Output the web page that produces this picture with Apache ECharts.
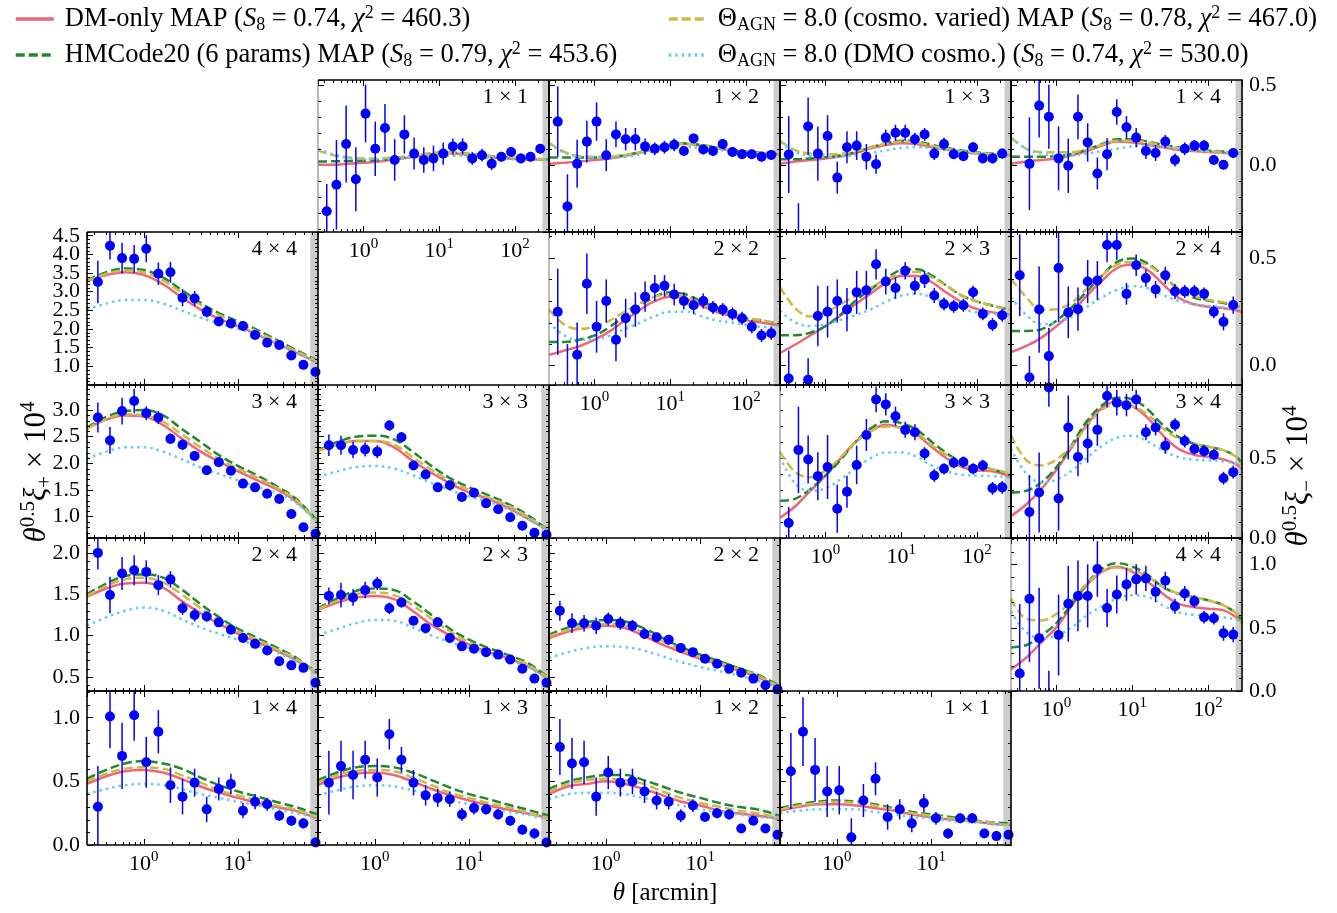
<!DOCTYPE html>
<html>
<head>
<meta charset="utf-8">
<script src="https://cdn.jsdelivr.net/npm/echarts@6.0.0/dist/echarts.min.js"></script>
<style>
  html, body { margin: 0; padding: 0; background: #fff; }
  #chart { width: 1337px; height: 913px; }
</style>
</head>
<body>
<div id="chart"></div>
<script>
// Angular bin centres in arcmin (xi+ uses the first 19, xi- all 23)
const thetaBins = [0.326, 0.438, 0.588, 0.790, 1.061, 1.425, 1.914, 2.570, 3.452, 4.636, 6.226, 8.362,
  11.23, 15.08, 20.26, 27.20, 36.54, 49.07, 65.90, 88.50, 118.9, 159.6, 214.4];
// Angles at which the model curves are tabulated
const thetaModelPlus = [0.25, 0.4, 0.63, 1, 1.6, 2.5, 4, 6.3, 10, 16, 25, 40, 63, 70];
const thetaModelMinus = [0.25, 0.4, 0.63, 1, 1.6, 2.5, 4, 6.3, 10, 16, 25, 40, 63, 100, 160, 250, 280];

// ---------------- xi+ (theta^0.5 xi+ x 1e4) ----------------
const P44_y = [3.26, 4.23, 3.90, 3.88, 4.15, 3.48, 3.52, 2.84, 2.82, 2.46, 2.20, 2.15, 2.08, 1.84, 1.63, 1.57, 1.29, 1.04, 0.85];
const P44_e = [0.57, 0.37, 0.41, 0.37, 0.36, 0.30, 0.28, 0.23, 0.20, 0.15, 0.12, 0.10, 0.10, 0.08, 0.07, 0.07, 0.06, 0.06, 0.05];
const P44_dm = [3.28, 3.45, 3.52, 3.45, 3.20, 2.85, 2.52, 2.27, 2.07, 1.85, 1.62, 1.38, 1.15, 1.10];
const P44_hm = [3.30, 3.52, 3.62, 3.58, 3.38, 3.05, 2.70, 2.42, 2.20, 1.97, 1.72, 1.45, 1.20, 1.12];
const P44_av = [3.28, 3.48, 3.57, 3.52, 3.30, 2.98, 2.65, 2.37, 2.15, 1.93, 1.68, 1.42, 1.18, 1.10];
const P44_ad = [2.53, 2.68, 2.78, 2.78, 2.68, 2.50, 2.30, 2.15, 2.00, 1.83, 1.62, 1.38, 1.15, 1.10];

const P34_y = [2.86, 2.43, 2.98, 3.17, 2.94, 2.86, 2.46, 2.35, 2.14, 1.87, 2.02, 1.86, 1.62, 1.55, 1.43, 1.33, 1.05, 0.80, 0.68];
const P34_e = [0.28, 0.25, 0.25, 0.23, 0.13, 0.12, 0.10, 0.10, 0.08, 0.06, 0.06, 0.05, 0.04, 0.04, 0.04, 0.04, 0.04, 0.04, 0.04];
const P34_dm = [2.65, 2.82, 2.90, 2.88, 2.72, 2.47, 2.22, 2.03, 1.85, 1.68, 1.52, 1.30, 0.98, 0.90];
const P34_hm = [2.67, 2.87, 2.98, 3.00, 2.90, 2.65, 2.40, 2.15, 1.95, 1.77, 1.58, 1.35, 1.00, 0.92];
const P34_av = [2.65, 2.83, 2.92, 2.90, 2.78, 2.55, 2.30, 2.08, 1.90, 1.73, 1.55, 1.33, 0.98, 0.90];
const P34_ad = [2.09, 2.22, 2.30, 2.30, 2.22, 2.08, 1.92, 1.80, 1.68, 1.56, 1.45, 1.27, 0.97, 0.90];

const P33_y = [2.34, 2.34, 2.25, 2.26, 2.22, 2.71, 2.49, 1.96, 1.79, 1.55, 1.59, 1.37, 1.45, 1.25, 1.14, 0.99, 0.83, 0.70, 0.66];
const P33_e = [0.20, 0.18, 0.15, 0.13, 0.12, 0.10, 0.10, 0.08, 0.07, 0.05, 0.05, 0.05, 0.05, 0.04, 0.04, 0.04, 0.04, 0.04, 0.04];
const P33_dm = [2.24, 2.35, 2.42, 2.42, 2.30, 2.05, 1.82, 1.62, 1.45, 1.33, 1.18, 0.98, 0.78, 0.74];
const P33_hm = [2.24, 2.40, 2.50, 2.52, 2.45, 2.22, 1.95, 1.72, 1.55, 1.40, 1.25, 1.05, 0.80, 0.76];
const P33_av = [2.24, 2.35, 2.42, 2.42, 2.35, 2.12, 1.88, 1.67, 1.50, 1.36, 1.22, 1.02, 0.79, 0.75];
const P33_ad = [1.75, 1.85, 1.93, 1.95, 1.90, 1.78, 1.63, 1.50, 1.38, 1.28, 1.15, 0.97, 0.78, 0.74];

const P24_y = [2.00, 1.49, 1.75, 1.79, 1.77, 1.61, 1.68, 1.33, 1.25, 1.23, 1.16, 1.07, 0.97, 0.90, 0.82, 0.69, 0.64, 0.61, 0.43];
const P24_e = [0.20, 0.22, 0.20, 0.18, 0.14, 0.12, 0.10, 0.08, 0.08, 0.06, 0.05, 0.05, 0.04, 0.04, 0.04, 0.04, 0.04, 0.04, 0.04];
const P24_dm = [1.47, 1.57, 1.63, 1.64, 1.58, 1.42, 1.27, 1.14, 1.02, 0.92, 0.82, 0.71, 0.57, 0.54];
const P24_hm = [1.50, 1.63, 1.72, 1.74, 1.70, 1.56, 1.38, 1.22, 1.08, 0.97, 0.86, 0.74, 0.58, 0.55];
const P24_av = [1.48, 1.60, 1.68, 1.70, 1.64, 1.50, 1.33, 1.18, 1.05, 0.95, 0.84, 0.73, 0.57, 0.54];
const P24_ad = [1.12, 1.22, 1.30, 1.34, 1.30, 1.20, 1.10, 1.02, 0.95, 0.88, 0.80, 0.70, 0.56, 0.53];

const P23_y = [1.48, 1.49, 1.46, 1.55, 1.63, 1.33, 1.40, 1.18, 1.09, 1.16, 0.97, 0.87, 0.84, 0.80, 0.77, 0.71, 0.60, 0.48, 0.43];
const P23_e = [0.10, 0.15, 0.10, 0.10, 0.08, 0.07, 0.06, 0.05, 0.05, 0.05, 0.04, 0.04, 0.04, 0.03, 0.03, 0.03, 0.03, 0.03, 0.03];
const P23_dm = [1.31, 1.40, 1.46, 1.48, 1.44, 1.30, 1.13, 1.00, 0.89, 0.80, 0.73, 0.64, 0.51, 0.48];
const P23_hm = [1.33, 1.45, 1.54, 1.57, 1.55, 1.42, 1.25, 1.08, 0.95, 0.85, 0.77, 0.68, 0.53, 0.50];
const P23_av = [1.32, 1.42, 1.50, 1.52, 1.49, 1.37, 1.20, 1.05, 0.92, 0.83, 0.75, 0.66, 0.52, 0.49];
const P23_ad = [1.01, 1.08, 1.15, 1.19, 1.18, 1.10, 1.00, 0.92, 0.85, 0.78, 0.71, 0.63, 0.50, 0.47];

const P22_y = [1.30, 1.15, 1.15, 1.12, 1.20, 1.15, 1.12, 1.02, 0.98, 0.95, 0.85, 0.80, 0.72, 0.66, 0.60, 0.55, 0.48, 0.40, 0.35];
const P22_e = [0.12, 0.12, 0.10, 0.10, 0.08, 0.08, 0.07, 0.06, 0.05, 0.05, 0.04, 0.04, 0.04, 0.03, 0.03, 0.03, 0.03, 0.03, 0.03];
const P22_dm = [0.97, 1.05, 1.10, 1.12, 1.09, 1.00, 0.89, 0.80, 0.72, 0.65, 0.58, 0.50, 0.40, 0.38];
const P22_hm = [1.01, 1.10, 1.16, 1.19, 1.17, 1.09, 0.97, 0.86, 0.77, 0.69, 0.61, 0.53, 0.42, 0.40];
const P22_av = [0.99, 1.07, 1.12, 1.14, 1.12, 1.04, 0.93, 0.83, 0.74, 0.67, 0.60, 0.52, 0.41, 0.39];
const P22_ad = [0.73, 0.80, 0.85, 0.87, 0.86, 0.82, 0.75, 0.68, 0.62, 0.57, 0.52, 0.46, 0.39, 0.37];

const P14_y = [0.30, 1.01, 0.70, 1.02, 0.65, 0.89, 0.47, 0.38, 0.49, 0.28, 0.44, 0.48, 0.27, 0.34, 0.32, 0.23, 0.19, 0.17, 0.02];
const P14_e = [0.32, 0.25, 0.26, 0.20, 0.20, 0.17, 0.14, 0.14, 0.11, 0.10, 0.09, 0.08, 0.06, 0.06, 0.05, 0.04, 0.04, 0.04, 0.04];
const P14_dm = [0.48, 0.54, 0.58, 0.59, 0.57, 0.52, 0.46, 0.41, 0.37, 0.33, 0.30, 0.27, 0.22, 0.21];
const P14_hm = [0.52, 0.59, 0.64, 0.66, 0.64, 0.60, 0.53, 0.47, 0.42, 0.38, 0.34, 0.30, 0.25, 0.24];
const P14_av = [0.50, 0.56, 0.60, 0.61, 0.60, 0.55, 0.49, 0.43, 0.39, 0.35, 0.31, 0.28, 0.23, 0.22];
const P14_ad = [0.40, 0.44, 0.47, 0.48, 0.47, 0.44, 0.40, 0.37, 0.34, 0.31, 0.28, 0.25, 0.22, 0.21];

const P13_y = [0.49, 0.62, 0.55, 0.67, 0.53, 0.87, 0.67, 0.49, 0.39, 0.37, 0.36, 0.24, 0.29, 0.28, 0.24, 0.19, 0.12, 0.09, 0.02];
const P13_e = [0.25, 0.20, 0.19, 0.15, 0.15, 0.12, 0.10, 0.10, 0.08, 0.07, 0.06, 0.05, 0.05, 0.04, 0.04, 0.04, 0.04, 0.04, 0.03];
const P13_dm = [0.47, 0.53, 0.56, 0.57, 0.55, 0.50, 0.44, 0.39, 0.35, 0.31, 0.28, 0.25, 0.22, 0.21];
const P13_hm = [0.51, 0.57, 0.61, 0.62, 0.61, 0.57, 0.51, 0.45, 0.40, 0.36, 0.32, 0.28, 0.24, 0.23];
const P13_av = [0.49, 0.55, 0.58, 0.59, 0.58, 0.53, 0.47, 0.41, 0.37, 0.33, 0.30, 0.26, 0.22, 0.22];
const P13_ad = [0.39, 0.43, 0.46, 0.47, 0.46, 0.43, 0.39, 0.35, 0.32, 0.29, 0.26, 0.24, 0.21, 0.21];

const P12_y = [0.77, 0.64, 0.65, 0.38, 0.57, 0.49, 0.50, 0.42, 0.35, 0.34, 0.23, 0.31, 0.22, 0.25, 0.24, 0.13, 0.19, 0.13, 0.08];
const P12_e = [0.22, 0.20, 0.17, 0.15, 0.13, 0.11, 0.10, 0.09, 0.07, 0.06, 0.05, 0.05, 0.04, 0.04, 0.04, 0.03, 0.03, 0.03, 0.03];
const P12_dm = [0.40, 0.46, 0.48, 0.50, 0.48, 0.44, 0.39, 0.34, 0.31, 0.27, 0.25, 0.23, 0.21, 0.20];
const P12_hm = [0.44, 0.50, 0.53, 0.55, 0.55, 0.51, 0.46, 0.41, 0.37, 0.33, 0.30, 0.28, 0.24, 0.22];
const P12_av = [0.42, 0.48, 0.51, 0.52, 0.51, 0.48, 0.42, 0.37, 0.33, 0.30, 0.27, 0.25, 0.22, 0.21];
const P12_ad = [0.36, 0.40, 0.41, 0.41, 0.40, 0.37, 0.34, 0.31, 0.28, 0.26, 0.24, 0.22, 0.21, 0.20];

const P11_y = [0.58, 0.89, 0.59, 0.42, 0.43, 0.06, 0.35, 0.52, 0.22, 0.28, 0.17, 0.33, 0.21, 0.09, 0.21, 0.21, 0.09, 0.07, 0.08];
const P11_e = [0.30, 0.27, 0.25, 0.20, 0.19, 0.15, 0.13, 0.13, 0.10, 0.08, 0.07, 0.07, 0.05, 0.04, 0.04, 0.04, 0.03, 0.03, 0.03];
const P11_dm = [0.27, 0.30, 0.32, 0.32, 0.31, 0.29, 0.27, 0.24, 0.22, 0.20, 0.19, 0.17, 0.16, 0.16];
const P11_hm = [0.29, 0.32, 0.34, 0.35, 0.34, 0.32, 0.29, 0.26, 0.24, 0.22, 0.20, 0.18, 0.17, 0.16];
const P11_av = [0.28, 0.31, 0.33, 0.34, 0.33, 0.31, 0.28, 0.25, 0.23, 0.21, 0.19, 0.18, 0.16, 0.16];
const P11_ad = [0.25, 0.27, 0.28, 0.28, 0.28, 0.26, 0.24, 0.22, 0.21, 0.19, 0.18, 0.17, 0.16, 0.16];

// ---------------- xi- (theta^0.5 xi- x 1e4) ----------------
const M11_y = [-0.29, -0.125, 0.13, -0.09, 0.32, 0.10, 0.23, 0.03, 0.19, 0.07, 0.03, 0.04, 0.07, 0.115, 0.115, 0.04, 0.06, 0.007, 0.05, 0.08, 0.04, 0.05, 0.10];
const M11_e = [0.17, 0.28, 0.24, 0.20, 0.18, 0.17, 0.15, 0.13, 0.12, 0.10, 0.08, 0.08, 0.07, 0.05, 0.05, 0.04, 0.04, 0.04, 0.03, 0.03, 0.03, 0.03, 0.03];
const M11_dm = [0.0, 0.0, 0.007, 0.013, 0.02, 0.033, 0.046, 0.06, 0.07, 0.07, 0.06, 0.05, 0.042, 0.036, 0.033, 0.033, 0.033];
const M11_hm = [0.02, 0.022, 0.024, 0.026, 0.03, 0.04, 0.052, 0.066, 0.075, 0.075, 0.068, 0.058, 0.05, 0.043, 0.038, 0.035, 0.035];
const M11_av = [0.09, 0.06, 0.045, 0.04, 0.04, 0.045, 0.055, 0.066, 0.073, 0.073, 0.066, 0.056, 0.048, 0.042, 0.037, 0.034, 0.034];
const M11_ad = [0.10, 0.065, 0.045, 0.035, 0.035, 0.038, 0.045, 0.05, 0.055, 0.056, 0.052, 0.045, 0.04, 0.035, 0.032, 0.03, 0.03];

const M12_y = [0.27, -0.26, 0.007, 0.145, 0.27, 0.06, 0.19, 0.16, 0.16, 0.115, 0.10, 0.11, 0.125, 0.086, 0.165, 0.096, 0.086, 0.13, 0.08, 0.066, 0.066, 0.05, 0.062];
const M12_e = [0.22, 0.20, 0.15, 0.13, 0.12, 0.10, 0.08, 0.07, 0.07, 0.05, 0.04, 0.04, 0.04, 0.03, 0.03, 0.03, 0.03, 0.03, 0.03, 0.03, 0.03, 0.03, 0.03];
const M12_dm = [0.007, 0.013, 0.02, 0.03, 0.04, 0.056, 0.076, 0.10, 0.12, 0.13, 0.12, 0.105, 0.09, 0.08, 0.07, 0.065, 0.063];
const M12_hm = [0.046, 0.046, 0.046, 0.046, 0.05, 0.06, 0.08, 0.105, 0.125, 0.135, 0.125, 0.11, 0.095, 0.083, 0.075, 0.068, 0.066];
const M12_av = [0.14, 0.08, 0.055, 0.05, 0.052, 0.062, 0.08, 0.103, 0.122, 0.132, 0.122, 0.108, 0.093, 0.082, 0.073, 0.067, 0.065];
const M12_ad = [0.13, 0.075, 0.05, 0.045, 0.045, 0.05, 0.065, 0.085, 0.10, 0.11, 0.105, 0.095, 0.085, 0.075, 0.068, 0.062, 0.06];

const M13_y = [0.064, -0.50, 0.24, 0.07, 0.18, -0.08, 0.11, 0.12, 0.05, 0.004, 0.17, 0.20, 0.20, 0.16, 0.19, 0.07, 0.13, 0.066, 0.054, 0.11, 0.04, 0.04, 0.07];
const M13_e = [0.24, 0.26, 0.18, 0.17, 0.13, 0.10, 0.10, 0.09, 0.08, 0.06, 0.05, 0.05, 0.05, 0.04, 0.04, 0.04, 0.04, 0.03, 0.03, 0.03, 0.03, 0.03, 0.03];
const M13_dm = [0.006, 0.02, 0.03, 0.04, 0.054, 0.074, 0.104, 0.124, 0.135, 0.13, 0.11, 0.094, 0.08, 0.07, 0.064, 0.06, 0.058];
const M13_hm = [0.035, 0.035, 0.04, 0.048, 0.06, 0.08, 0.11, 0.135, 0.15, 0.145, 0.125, 0.105, 0.09, 0.078, 0.07, 0.065, 0.063];
const M13_av = [0.15, 0.09, 0.07, 0.065, 0.07, 0.085, 0.11, 0.132, 0.145, 0.14, 0.12, 0.10, 0.085, 0.075, 0.068, 0.063, 0.062];
const M13_ad = [0.14, 0.08, 0.055, 0.05, 0.052, 0.06, 0.075, 0.09, 0.105, 0.11, 0.105, 0.095, 0.085, 0.075, 0.067, 0.062, 0.06];

const M14_y = [-0.60, 0.006, 0.37, 0.30, 0.04, -0.006, 0.30, 0.14, -0.054, 0.066, 0.33, 0.235, 0.17, 0.086, 0.074, 0.146, 0.03, 0.10, 0.12, 0.12, 0.03, 0.0, 0.074];
const M14_e = [0.15, 0.29, 0.20, 0.20, 0.20, 0.17, 0.14, 0.12, 0.10, 0.10, 0.08, 0.07, 0.06, 0.05, 0.05, 0.04, 0.04, 0.04, 0.035, 0.035, 0.03, 0.03, 0.03];
const M14_dm = [0.006, 0.02, 0.03, 0.04, 0.06, 0.086, 0.12, 0.145, 0.14, 0.125, 0.11, 0.094, 0.086, 0.08, 0.074, 0.07, 0.07];
const M14_hm = [0.05, 0.05, 0.05, 0.055, 0.068, 0.095, 0.13, 0.16, 0.16, 0.145, 0.125, 0.11, 0.10, 0.09, 0.083, 0.078, 0.077];
const M14_av = [0.17, 0.10, 0.08, 0.078, 0.08, 0.095, 0.125, 0.15, 0.15, 0.14, 0.12, 0.105, 0.095, 0.087, 0.08, 0.076, 0.075];
const M14_ad = [0.17, 0.10, 0.07, 0.06, 0.06, 0.07, 0.085, 0.10, 0.115, 0.12, 0.115, 0.10, 0.09, 0.082, 0.075, 0.07, 0.07];

const M22_y = [0.25, -0.10, 0.05, 0.38, 0.18, 0.30, 0.12, 0.22, 0.26, 0.32, 0.36, 0.37, 0.33, 0.30, 0.28, 0.30, 0.27, 0.26, 0.24, 0.22, 0.18, 0.14, 0.15];
const M22_e = [0.20, 0.20, 0.15, 0.14, 0.12, 0.10, 0.10, 0.09, 0.08, 0.07, 0.06, 0.05, 0.05, 0.04, 0.04, 0.035, 0.03, 0.03, 0.03, 0.03, 0.03, 0.03, 0.03];
const M22_dm = [0.05, 0.07, 0.09, 0.12, 0.16, 0.21, 0.26, 0.30, 0.32, 0.31, 0.28, 0.25, 0.23, 0.21, 0.20, 0.19, 0.19];
const M22_hm = [0.11, 0.11, 0.12, 0.14, 0.18, 0.23, 0.28, 0.32, 0.34, 0.33, 0.30, 0.27, 0.24, 0.22, 0.21, 0.20, 0.20];
const M22_av = [0.26, 0.19, 0.17, 0.18, 0.21, 0.25, 0.29, 0.32, 0.33, 0.32, 0.29, 0.26, 0.24, 0.22, 0.21, 0.20, 0.20];
const M22_ad = [0.20, 0.14, 0.12, 0.12, 0.14, 0.17, 0.20, 0.23, 0.25, 0.25, 0.23, 0.21, 0.20, 0.19, 0.18, 0.18, 0.18];

const M23_y = [-0.06, -0.25, -0.066, 0.23, 0.25, 0.30, 0.26, 0.34, 0.35, 0.47, 0.39, 0.36, 0.44, 0.37, 0.40, 0.325, 0.286, 0.275, 0.28, 0.34, 0.24, 0.19, 0.234];
const M23_e = [0.13, 0.12, 0.10, 0.14, 0.12, 0.10, 0.10, 0.10, 0.09, 0.07, 0.06, 0.05, 0.04, 0.04, 0.04, 0.035, 0.03, 0.03, 0.03, 0.03, 0.03, 0.03, 0.03];
const M23_dm = [0.059, 0.098, 0.141, 0.184, 0.234, 0.286, 0.336, 0.385, 0.416, 0.416, 0.388, 0.337, 0.294, 0.262, 0.247, 0.239, 0.234];
const M23_hm = [0.141, 0.141, 0.153, 0.184, 0.239, 0.302, 0.356, 0.403, 0.443, 0.447, 0.419, 0.369, 0.325, 0.297, 0.278, 0.262, 0.258];
const M23_av = [0.364, 0.266, 0.228, 0.247, 0.286, 0.325, 0.364, 0.40, 0.427, 0.435, 0.411, 0.369, 0.325, 0.297, 0.278, 0.262, 0.258];
const M23_ad = [0.255, 0.20, 0.184, 0.192, 0.213, 0.234, 0.262, 0.297, 0.325, 0.333, 0.317, 0.286, 0.262, 0.247, 0.239, 0.234, 0.231];

const M24_y = [0.419, -0.055, 0.26, 0.044, 0.453, 0.247, 0.262, 0.39, 0.395, 0.56, 0.56, 0.333, 0.466, 0.406, 0.353, 0.419, 0.344, 0.344, 0.344, 0.333, 0.25, 0.203, 0.281];
const M24_e = [0.19, 0.10, 0.20, 0.13, 0.25, 0.12, 0.10, 0.10, 0.09, 0.08, 0.07, 0.05, 0.05, 0.04, 0.04, 0.04, 0.035, 0.03, 0.03, 0.03, 0.03, 0.04, 0.04];
const M24_dm = [0.0625, 0.091, 0.13, 0.184, 0.247, 0.325, 0.395, 0.453, 0.469, 0.443, 0.38, 0.317, 0.286, 0.273, 0.266, 0.255, 0.247];
const M24_hm = [0.161, 0.161, 0.169, 0.209, 0.272, 0.344, 0.419, 0.481, 0.497, 0.473, 0.419, 0.356, 0.317, 0.302, 0.29, 0.275, 0.266];
const M24_av = [0.403, 0.317, 0.259, 0.262, 0.294, 0.356, 0.419, 0.469, 0.481, 0.466, 0.419, 0.359, 0.325, 0.306, 0.294, 0.275, 0.266];
const M24_ad = [0.317, 0.234, 0.192, 0.20, 0.228, 0.272, 0.317, 0.352, 0.369, 0.359, 0.328, 0.302, 0.286, 0.278, 0.27, 0.262, 0.258];

const M33_y = [0.094, 0.55, 0.49, 0.386, 0.443, 0.183, 0.289, 0.456, 0.643, 0.865, 0.834, 0.76, 0.675, 0.66, 0.527, 0.39, 0.432, 0.47, 0.474, 0.432, 0.453, 0.31, 0.316];
const M33_e = [0.10, 0.27, 0.15, 0.15, 0.20, 0.15, 0.10, 0.12, 0.10, 0.08, 0.07, 0.06, 0.05, 0.05, 0.04, 0.04, 0.035, 0.035, 0.035, 0.035, 0.035, 0.04, 0.04];
const M33_dm = [0.126, 0.20, 0.295, 0.39, 0.50, 0.601, 0.669, 0.707, 0.686, 0.643, 0.57, 0.496, 0.443, 0.422, 0.416, 0.39, 0.373];
const M33_hm = [0.232, 0.246, 0.306, 0.39, 0.491, 0.601, 0.686, 0.728, 0.717, 0.675, 0.601, 0.527, 0.474, 0.443, 0.428, 0.40, 0.384];
const M33_av = [0.538, 0.411, 0.379, 0.422, 0.506, 0.601, 0.669, 0.696, 0.686, 0.654, 0.58, 0.517, 0.464, 0.436, 0.428, 0.407, 0.39];
const M33_ad = [0.506, 0.338, 0.295, 0.31, 0.369, 0.436, 0.50, 0.534, 0.534, 0.506, 0.453, 0.416, 0.394, 0.39, 0.386, 0.379, 0.373];

const M34_y = [-0.20, 0.162, 0.284, 0.94, 0.246, 0.69, 0.506, 0.59, 0.675, 0.886, 0.844, 0.829, 0.865, 0.66, 0.69, 0.576, 0.707, 0.605, 0.555, 0.542, 0.52, 0.373, 0.411];
const M34_e = [0.15, 0.23, 0.25, 0.12, 0.20, 0.20, 0.12, 0.12, 0.10, 0.07, 0.08, 0.07, 0.06, 0.05, 0.05, 0.05, 0.04, 0.04, 0.035, 0.035, 0.035, 0.04, 0.04];
const M34_dm = [0.137, 0.211, 0.306, 0.428, 0.569, 0.707, 0.813, 0.854, 0.823, 0.749, 0.643, 0.559, 0.521, 0.506, 0.491, 0.453, 0.428];
const M34_hm = [0.284, 0.295, 0.348, 0.443, 0.584, 0.728, 0.829, 0.876, 0.865, 0.802, 0.707, 0.633, 0.591, 0.569, 0.548, 0.496, 0.453];
const M34_av = [0.643, 0.485, 0.453, 0.491, 0.58, 0.696, 0.802, 0.834, 0.823, 0.77, 0.686, 0.622, 0.591, 0.569, 0.548, 0.496, 0.453];
const M34_ad = [0.559, 0.401, 0.348, 0.365, 0.422, 0.50, 0.576, 0.626, 0.639, 0.601, 0.548, 0.506, 0.491, 0.485, 0.479, 0.458, 0.436];

const M44_y = [0.138, 0.73, 0.417, -0.30, 0.443, 0.69, 0.752, 0.752, 0.965, 0.657, 0.763, 0.843, 0.883, 0.89, 0.784, 0.872, 0.67, 0.771, 0.709, 0.584, 0.576, 0.457, 0.446];
const M44_e = [0.55, 0.50, 0.40, 0.46, 0.32, 0.30, 0.28, 0.25, 0.22, 0.15, 0.15, 0.13, 0.12, 0.10, 0.08, 0.07, 0.06, 0.06, 0.05, 0.05, 0.05, 0.06, 0.06];
const M44_dm = [0.172, 0.265, 0.385, 0.505, 0.678, 0.837, 0.943, 0.983, 0.943, 0.864, 0.771, 0.691, 0.665, 0.651, 0.638, 0.571, 0.539];
const M44_hm = [0.345, 0.364, 0.438, 0.539, 0.691, 0.85, 0.97, 1.01, 0.983, 0.917, 0.824, 0.771, 0.744, 0.717, 0.678, 0.598, 0.539];
const M44_av = [0.731, 0.571, 0.558, 0.611, 0.717, 0.85, 0.949, 0.976, 0.957, 0.904, 0.824, 0.771, 0.744, 0.717, 0.678, 0.598, 0.539];
const M44_ad = [0.63, 0.465, 0.417, 0.438, 0.505, 0.598, 0.672, 0.731, 0.757, 0.744, 0.678, 0.624, 0.603, 0.598, 0.584, 0.558, 0.539];

// y-axis ranges of each panel row
const yRangePlus = { 1: [0.5, 4.6], 2: [0.6, 3.47], 3: [0.33, 2.18], 4: [0.0, 1.21] };
const yRangeMinus = { 0: [-0.42, 0.53], 1: [-0.09, 0.62], 2: [0.0, 0.955], 3: [0.0, 1.21] };
const xRangePlus = [0.25, 70], xRangeMinus = [0.25, 280];
const bandPlus = 58, bandMinus = 230;   // start of the shaded scale cut

const SERIES_NAMES = ['DM-only MAP', 'HMCode20 (6 params) MAP', 'ΘAGN = 8.0 (cosmo. varied) MAP', 'ΘAGN = 8.0 (DMO cosmo.)'];
const LEGEND_TEXT = {
  'DM-only MAP': 'DM-only MAP ({i|S}{sub|8} = 0.74, {i|χ}{sup|2} = 460.3)',
  'HMCode20 (6 params) MAP': 'HMCode20 (6 params) MAP ({i|S}{sub|8} = 0.79, {i|χ}{sup|2} = 453.6)',
  'ΘAGN = 8.0 (cosmo. varied) MAP': 'Θ{sub|AGN} = 8.0 (cosmo. varied) MAP ({i|S}{sub|8} = 0.78, {i|χ}{sup|2} = 467.0)',
  'ΘAGN = 8.0 (DMO cosmo.)': 'Θ{sub|AGN} = 8.0 (DMO cosmo.) ({i|S}{sub|8} = 0.74, {i|χ}{sup|2} = 530.0)'
};
const LINE_STYLES = [
  { color: '#EE6677', type: 'solid' },
  { color: '#228833', type: [9, 4] },
  { color: '#CCBB44', type: [9, 4] },
  { color: '#66CCEE', type: [2.5, 4] }
];

// panel id, grid row, grid column
const layout = [
  ['M11', 0, 1], ['M12', 0, 2], ['M13', 0, 3], ['M14', 0, 4],
  ['M22', 1, 2], ['M23', 1, 3], ['M24', 1, 4],
  ['M33', 2, 3], ['M34', 2, 4], ['M44', 3, 4],
  ['P44', 1, 0], ['P34', 2, 0], ['P33', 2, 1],
  ['P24', 3, 0], ['P23', 3, 1], ['P22', 3, 2],
  ['P14', 4, 0], ['P13', 4, 1], ['P12', 4, 2], ['P11', 4, 3]
];
const panelData = {
  P44: [P44_y, P44_e, P44_dm, P44_hm, P44_av, P44_ad], P34: [P34_y, P34_e, P34_dm, P34_hm, P34_av, P34_ad],
  P33: [P33_y, P33_e, P33_dm, P33_hm, P33_av, P33_ad], P24: [P24_y, P24_e, P24_dm, P24_hm, P24_av, P24_ad],
  P23: [P23_y, P23_e, P23_dm, P23_hm, P23_av, P23_ad], P22: [P22_y, P22_e, P22_dm, P22_hm, P22_av, P22_ad],
  P14: [P14_y, P14_e, P14_dm, P14_hm, P14_av, P14_ad], P13: [P13_y, P13_e, P13_dm, P13_hm, P13_av, P13_ad],
  P12: [P12_y, P12_e, P12_dm, P12_hm, P12_av, P12_ad], P11: [P11_y, P11_e, P11_dm, P11_hm, P11_av, P11_ad],
  M11: [M11_y, M11_e, M11_dm, M11_hm, M11_av, M11_ad], M12: [M12_y, M12_e, M12_dm, M12_hm, M12_av, M12_ad],
  M13: [M13_y, M13_e, M13_dm, M13_hm, M13_av, M13_ad], M14: [M14_y, M14_e, M14_dm, M14_hm, M14_av, M14_ad],
  M22: [M22_y, M22_e, M22_dm, M22_hm, M22_av, M22_ad], M23: [M23_y, M23_e, M23_dm, M23_hm, M23_av, M23_ad],
  M24: [M24_y, M24_e, M24_dm, M24_hm, M24_av, M24_ad], M33: [M33_y, M33_e, M33_dm, M33_hm, M33_av, M33_ad],
  M34: [M34_y, M34_e, M34_dm, M34_hm, M34_av, M34_ad], M44: [M44_y, M44_e, M44_dm, M44_hm, M44_av, M44_ad]
};

// ---------------- layout and drawing ----------------
const COL_X = [87, 318, 549, 780, 1011];
const ROW_Y = [80, 232, 385, 538, 691, 845];
const PANEL_W = 231;
const SERIF = '"Liberation Serif", "DejaVu Serif", serif';
const FS = 22;

const RICH = {
  a: { fontFamily: SERIF, fontSize: FS, lineHeight: 28, color: '#000' },
  s: { fontFamily: SERIF, fontSize: 15, lineHeight: 15, verticalAlign: 'top', color: '#000' }
};

function isMultiple(v, step) { return Math.abs(v / step - Math.round(v / step)) < 1e-6; }

function logLabel(v) {
  const p = Math.log10(v), r = Math.round(p);
  if (Math.abs(p - r) > 1e-6) return '';
  return '{a|10}{s|' + r + '}';
}

// minor ticks (log decades on x, 0.1 steps on y), drawn inside the frame on all four sides
function minorTickRenderer(xr, yr) {
  return function (params, api) {
    const cs = params.coordSys;
    const kids = [];
    const st = { stroke: '#000', lineWidth: 1 };
    const L = 3;
    for (let n = -1; n <= 3; n++) {
      for (let k = 2; k <= 9; k++) {
        const v = k * Math.pow(10, n);
        if (v <= xr[0] || v >= xr[1]) continue;
        const px = Math.round(api.coord([v, yr[0]])[0]) + 0.5;
        kids.push({ type: 'line', shape: { x1: px, y1: cs.y + cs.height, x2: px, y2: cs.y + cs.height - L }, style: st });
        kids.push({ type: 'line', shape: { x1: px, y1: cs.y, x2: px, y2: cs.y + L }, style: st });
      }
    }
    const i0 = Math.ceil(yr[0] * 10 - 1e-6), i1 = Math.floor(yr[1] * 10 + 1e-6);
    for (let i = i0; i <= i1; i++) {
      if (i % 5 === 0) continue;
      const py = Math.round(api.coord([xr[0] * 1.0001, i / 10])[1]) + 0.5;
      kids.push({ type: 'line', shape: { x1: cs.x, y1: py, x2: cs.x + L, y2: py }, style: st });
      kids.push({ type: 'line', shape: { x1: cs.x + cs.width, y1: py, x2: cs.x + cs.width - L, y2: py }, style: st });
    }
    return { type: 'group', children: kids };
  };
}

function bandRenderer(x0) {
  return function (params, api) {
    const cs = params.coordSys;
    const px = api.coord([x0, 0])[0];
    return { type: 'rect', shape: { x: px, y: cs.y, width: cs.x + cs.width - px, height: cs.height }, style: { fill: '#cccccc' } };
  };
}

function errRenderer(params, api) {
  const cs = params.coordSys;
  const x = api.value(0);
  const lo = api.coord([x, api.value(1)]);
  const hi = api.coord([x, api.value(2)]);
  const y1 = Math.min(lo[1], cs.y + cs.height);
  const y2 = Math.max(hi[1], cs.y);
  if (y1 <= y2) return null;
  return { type: 'line', shape: { x1: lo[0], y1: y1, x2: lo[0], y2: y2 }, style: { stroke: '#0000ff', lineWidth: 1.5 } };
}

const grids = [], xAxes = [], yAxes = [], series = [], graphics = [];

layout.forEach(function (entry, gi) {
  const id = entry[0], row = entry[1], col = entry[2];
  const plus = id[0] === 'P';
  const d = panelData[id];
  const xr = plus ? xRangePlus : xRangeMinus;
  const yr = plus ? yRangePlus[row] : yRangeMinus[row];
  const top = ROW_Y[row], h = ROW_Y[row + 1] - ROW_Y[row];
  const left = COL_X[col];
  const thModel = plus ? thetaModelPlus : thetaModelMinus;
  const diagonal = !plus && col === row + 1;

  const showLeft = plus && col === 0;
  const showRight = !plus && col === 4;
  const showBottom = plus ? row === 4 : diagonal;

  grids.push({ left: left, top: top, width: PANEL_W, height: h, show: false });

  const xBase = {
    type: 'log', logBase: 10, gridIndex: gi, min: xr[0], max: xr[1],
    axisLine: { show: false, onZero: false }, splitLine: { show: false },
    axisTick: { inside: true, length: 6, lineStyle: { color: '#000', width: 1 } }
  };
  xAxes.push(Object.assign({}, xBase, {
    position: 'bottom',
    axisLabel: { show: showBottom, margin: 5, formatter: logLabel, rich: RICH, showMinLabel: false, showMaxLabel: false, hideOverlap: false }
  }));
  xAxes.push(Object.assign({}, xBase, { position: 'top', axisLabel: { show: false } }));

  const yBase = {
    type: 'value', gridIndex: gi, min: yr[0], max: yr[1], minInterval: 0.5, maxInterval: 0.5, splitNumber: 3,
    axisLine: { show: false, onZero: false }, splitLine: { show: false },
    axisTick: { inside: true, length: 6, lineStyle: { color: '#000', width: 1 } }
  };
  // end labels: hidden when the range end is not a tick; otherwise left to the overlap rule
  const yLabel = {
    margin: 7, fontFamily: SERIF, fontSize: FS, color: '#000', hideOverlap: false,
    formatter: function (v) { return v.toFixed(1); },
    showMinLabel: isMultiple(yr[0], 0.5) ? null : false,
    showMaxLabel: isMultiple(yr[1], 0.5) ? null : false
  };
  yAxes.push(Object.assign({}, yBase, { position: 'left', axisLabel: Object.assign({ show: showLeft }, yLabel) }));
  yAxes.push(Object.assign({}, yBase, { position: 'right', axisLabel: Object.assign({ show: showRight }, yLabel) }));

  const xi = 2 * gi, yi = 2 * gi;

  series.push({
    type: 'custom', xAxisIndex: xi, yAxisIndex: yi, z: 1, silent: true,
    renderItem: bandRenderer(plus ? bandPlus : bandMinus), data: [[xr[0], yr[0]]]
  });

  for (let m = 0; m < 4; m++) {
    series.push({
      type: 'line', name: SERIES_NAMES[m], xAxisIndex: xi, yAxisIndex: yi, z: 2 + m * 0.1,
      showSymbol: false, symbol: 'none', smooth: 0.4, silent: true, clip: true,
      lineStyle: { color: LINE_STYLES[m].color, width: 2.5, type: LINE_STYLES[m].type, cap: 'butt' },
      itemStyle: { color: LINE_STYLES[m].color },
      data: thModel.map(function (t, i) { return [t, d[2 + m][i]]; })
    });
  }

  series.push({
    type: 'custom', xAxisIndex: xi, yAxisIndex: yi, z: 3, silent: true,
    renderItem: errRenderer,
    encode: { x: 0, y: [1, 2] },
    data: d[0].map(function (v, i) { return [thetaBins[i], v - d[1][i], v + d[1][i]]; })
  });
  series.push({
    type: 'scatter', xAxisIndex: xi, yAxisIndex: yi, z: 4, silent: true, clip: true,
    symbol: 'circle', symbolSize: 10, itemStyle: { color: '#0000ff', opacity: 1 },
    data: d[0].map(function (v, i) { return [thetaBins[i], v]; })
  });
  series.push({
    type: 'custom', xAxisIndex: xi, yAxisIndex: yi, z: 6, silent: true,
    renderItem: minorTickRenderer(xr, yr), data: [[xr[0], yr[0]]]
  });

  // frame: black on three sides; the left spine of a diagonal xi- panel (facing an empty cell) is grey
  graphics.push({
    type: 'polyline', z: 100, silent: true,
    shape: { points: [[left, top], [left + PANEL_W, top], [left + PANEL_W, top + h], [left, top + h]] },
    style: { fill: 'none', stroke: '#000', lineWidth: 1.6 }
  });
  graphics.push({
    type: 'line', z: diagonal ? 99 : 100, silent: true,
    shape: { x1: left, y1: top, x2: left, y2: top + h },
    style: { stroke: diagonal ? '#777' : '#000', lineWidth: diagonal ? 1 : 1.6 }
  });
  // bin-pair label
  graphics.push({
    type: 'text', z: 101, silent: true, x: left + PANEL_W - 21, y: top + 17,
    style: { text: id[1] + ' × ' + id[2], font: FS + 'px ' + SERIF, fill: '#000', align: 'right', verticalAlign: 'middle' }
  });
});

const TITLE_RICH = {
  r: { fontFamily: SERIF, fontSize: 31, lineHeight: 38, color: '#000' },
  i: { fontFamily: SERIF, fontSize: 31, lineHeight: 38, fontStyle: 'italic', color: '#000' },
  sup: { fontFamily: SERIF, fontSize: 21, lineHeight: 21, verticalAlign: 'top', color: '#000' },
  sub: { fontFamily: SERIF, fontSize: 21, lineHeight: 21, verticalAlign: 'bottom', color: '#000' }
};
const XTITLE_RICH = {
  r: { fontFamily: SERIF, fontSize: 25, lineHeight: 30, color: '#000' },
  i: { fontFamily: SERIF, fontSize: 25, lineHeight: 30, fontStyle: 'italic', color: '#000' }
};
graphics.push({
  type: 'text', silent: true, x: 37, y: 472, rotation: Math.PI / 2,
  style: { text: '{i|θ}{sup|0.5}{i|ξ}{sub|+}{r| × 10}{sup|4}', rich: TITLE_RICH, align: 'center', verticalAlign: 'middle' }
});
graphics.push({
  type: 'text', silent: true, x: 1299, y: 476, rotation: Math.PI / 2,
  style: { text: '{i|θ}{sup|0.5}{i|ξ}{sub|−}{r| × 10}{sup|4}', rich: TITLE_RICH, align: 'center', verticalAlign: 'middle' }
});
graphics.push({
  type: 'text', silent: true, x: 665, y: 893,
  style: { text: '{i|θ}{r| [arcmin]}', rich: XTITLE_RICH, align: 'center', verticalAlign: 'middle' }
});

const LEGEND_RICH = {
  i: { fontFamily: SERIF, fontSize: 26.5, fontStyle: 'italic', color: '#000', lineHeight: 30 },
  sub: { fontFamily: SERIF, fontSize: 18, verticalAlign: 'bottom', lineHeight: 18, color: '#000' },
  sup: { fontFamily: SERIF, fontSize: 18, verticalAlign: 'top', lineHeight: 18, color: '#000' }
};
function legendCfg(names, left) {
  return {
    data: names, left: left, top: -1, orient: 'vertical', itemGap: 6, itemWidth: 38, itemHeight: 14,
    selectedMode: false,
    itemStyle: { opacity: 0 },
    lineStyle: { width: 3.5 },
    formatter: function (n) { return LEGEND_TEXT[n]; },
    textStyle: { fontFamily: SERIF, fontSize: 26.5, lineHeight: 30, color: '#000', padding: [0, 0, 0, 6], rich: LEGEND_RICH }
  };
}

const chart = echarts.init(document.getElementById('chart'), null, { renderer: 'canvas' });
chart.setOption({
  animation: false,
  backgroundColor: '#ffffff',
  legend: [legendCfg(SERIES_NAMES.slice(0, 2), 9), legendCfg(SERIES_NAMES.slice(2, 4), 662)],
  grid: grids,
  xAxis: xAxes,
  yAxis: yAxes,
  series: series,
  graphic: graphics
});
</script>
</body>
</html>
